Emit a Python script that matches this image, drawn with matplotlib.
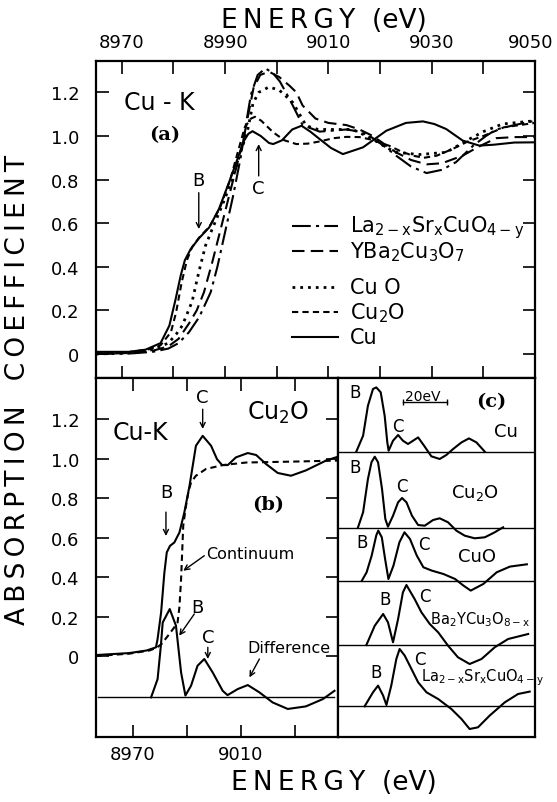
import matplotlib.pyplot as plt
from matplotlib.transforms import ScaledTranslation

plt.rcParams['font.family'] = ['DejaVu Sans']
plt.rcParams['mathtext.fontset'] = 'dejavusans'
plt.rcParams['lines.solid_joinstyle'] = 'round'

# ---------------- (a) normalized Cu K-edge spectra ----------------
e_la = [8965, 8972, 8976, 8979, 8981, 8983, 8985, 8987.2, 8988.5, 8990, 8991.5, 8993, 8994, 8995,
        8996.3, 8997.8, 8999.2, 9000.6, 9002, 9003.1, 9005, 9008.3, 9011, 9013.5, 9016, 9018, 9021,
        9023.1, 9026, 9029, 9032, 9034.7, 9038, 9040.5, 9042.5, 9046, 9050]
mu_la = [0.0, 0.003, 0.01, 0.025, 0.05, 0.1, 0.17, 0.283, 0.4, 0.56, 0.72, 0.9, 1.05, 1.19,
         1.28, 1.31, 1.29, 1.25, 1.19, 1.14, 1.05, 1.02, 1.025, 1.03, 1.02, 1.0, 0.95,
         0.91, 0.86, 0.83, 0.845, 0.88, 0.955, 1.0, 1.03, 1.05, 1.07]

e_yba = [8965, 8972, 8976, 8979, 8981, 8983, 8984.5, 8985.9, 8987.5, 8989, 8990.5, 8992, 8993.5, 8994.5,
         8995.5, 8996.8, 8998.5, 9000.5, 9002.5, 9003.8, 9005, 9007.5, 9010, 9013.5, 9016, 9018.6, 9021,
         9023.1, 9026, 9029, 9032, 9036, 9039, 9042.5, 9046, 9050]
mu_yba = [0.0, 0.005, 0.015, 0.035, 0.07, 0.14, 0.2, 0.283, 0.42, 0.56, 0.7, 0.84, 0.98, 1.1,
          1.22, 1.28, 1.295, 1.27, 1.23, 1.2, 1.14, 1.08, 1.06, 1.05, 1.03, 1.0, 0.96,
          0.925, 0.89, 0.87, 0.875, 0.91, 0.95, 0.99, 0.995, 0.995]

e_cuo = [8965, 8972, 8976, 8979, 8980.5, 8981.7, 8983.6, 8984.9, 8986.2, 8987.5, 8989.4, 8991.4, 8993,
         8994.3, 8995.4, 8996.5, 8998.5, 9000.5, 9003.1, 9005.7, 9008, 9011, 9014.7, 9018.6, 9021,
         9023.1, 9027.6, 9032.8, 9037.3, 9040, 9043.7, 9050]
mu_cuo = [0.0, 0.005, 0.02, 0.05, 0.09, 0.13, 0.24, 0.375, 0.497, 0.573, 0.68, 0.8, 0.925,
          1.02, 1.15, 1.2, 1.225, 1.21, 1.154, 1.047, 1.03, 1.03, 1.03, 0.986, 0.95,
          0.925, 0.915, 0.925, 0.986, 1.02, 1.055, 1.07]

e_cu2o = [8965, 8971, 8975, 8977.5, 8979.5, 8980.5, 8981.6, 8982.6, 8983.6, 8985, 8987, 8989, 8991,
          8992.5, 8993.8, 8995, 8995.8, 8997, 8999.3, 9001.5, 9003.8, 9006, 9008.3, 9011, 9013.5, 9016,
          9018, 9021.8, 9024, 9026.3, 9028.5, 9031, 9034, 9037, 9040, 9044, 9050]
mu_cu2o = [0.005, 0.008, 0.02, 0.04, 0.1, 0.19, 0.33, 0.43, 0.49, 0.535, 0.585, 0.67, 0.8,
           0.93, 1.04, 1.08, 1.088, 1.07, 1.017, 0.98, 0.963, 0.965, 0.975, 0.99, 0.996, 0.995,
           0.985, 0.955, 0.93, 0.91, 0.9, 0.91, 0.94, 0.975, 1.0, 1.04, 1.06]

e_cu = [8965, 8971.4, 8974.6, 8977.5, 8979.2, 8980.4, 8981.4, 8982.2, 8983.3, 8984.9, 8986.9, 8988.8,
        8990.8, 8992.4, 8993.7, 8994.5, 8995.3, 8996.9, 8998.5, 8999.3, 9001, 9003, 9004.8, 9006.5,
        9008.3, 9010.5, 9012.8, 9016.7, 9021.2, 9025, 9028.3, 9030.5, 9032.8, 9036, 9039.2, 9042,
        9046, 9050]
mu_cu = [0.01, 0.01, 0.02, 0.05, 0.13, 0.25, 0.36, 0.43, 0.48, 0.53, 0.58, 0.665,
         0.79, 0.895, 0.98, 1.01, 1.022, 1.0, 0.968, 0.963, 0.98, 1.03, 1.047, 1.02,
         0.986, 0.945, 0.917, 0.948, 1.024, 1.06, 1.067, 1.055, 1.032, 0.979, 0.956, 0.96,
         0.97, 0.971]

labels_a = [r'La$_{\mathrm{2-x}}$Sr$_{\mathrm{x}}$CuO$_{\mathrm{4-y}}$',
            r'YBa$_2$Cu$_3$O$_7$', 'Cu O', r'Cu$_2$O', 'Cu']

# ---------------- (b) Cu2O spectrum, continuum and difference ----------------
e_b = [8956.3, 8968.6, 8975, 8978.5, 8979.1, 8980.4, 8981.6, 8982.5, 8983.7, 8985.3, 8987.2, 8989,
       8990.9, 8993.3, 8995.8, 8998.9, 9001.1, 9003, 9005.1, 9008.1, 9012.5, 9015.6, 9019.3, 9023.6,
       9028.5, 9034, 9041.5, 9046]
mu_b = [0.005, 0.015, 0.028, 0.044, 0.086, 0.22, 0.42, 0.525, 0.558, 0.575, 0.626, 0.727,
        0.86, 1.065, 1.115, 1.065, 0.997, 0.967, 0.967, 1.006, 1.028, 1.018, 0.972, 0.927,
        0.913, 0.94, 0.99, 1.01]

e_cont = [8956.3, 8968.6, 8976, 8978.5, 8980.5, 8982.8, 8985, 8986.5, 8987.2, 8987.8, 8988.6, 8989.5,
          8990.5, 8991.5, 8993.3, 8997, 9003.2, 9011.9, 9030.4, 9046]
mu_cont = [0.0, 0.012, 0.028, 0.04, 0.06, 0.1, 0.14, 0.17, 0.25, 0.39, 0.66, 0.75,
           0.83, 0.88, 0.913, 0.947, 0.967, 0.98, 0.985, 0.99]

e_diff = [8976.7, 8979.1, 8980.3, 8981, 8983.6, 8985.9, 8987.8, 8989.4, 8991.5, 8993.9, 8996.4, 8999.5,
          9003.2, 9005, 9008.8, 9012.5, 9016.8, 9021.7, 9027.3, 9034, 9040.3, 9044.6]
mu_diff = [-0.209, -0.117, 0.05, 0.17, 0.238, 0.154, -0.083, -0.2, -0.15, -0.049, -0.015, -0.083,
           -0.176, -0.198, -0.167, -0.147, -0.184, -0.235, -0.268, -0.255, -0.218, -0.176]
diff_zero = -0.209

# ---------------- (c) difference spectra of the five compounds ----------------
names_c = ['Cu', r'Cu$_2$O', 'CuO', r'Ba$_2$YCu$_3$O$_{\mathrm{8-x}}$',
           r'La$_{\mathrm{2-x}}$Sr$_{\mathrm{x}}$CuO$_{\mathrm{4-y}}$']

e_c_cu = [8970.3, 8973.4, 8975.6, 8977.9, 8979.4, 8981.4, 8983.2, 8984.4, 8985, 8987, 8989.3, 8991.5,
          8993.8, 8996.1, 8998.4, 9001.1, 9004.4, 9008.2, 9011.2, 9014.3, 9018.1, 9021.5, 9024.9, 9028.7]
d_c_cu = [0.0, 0.16, 0.46, 0.627, 0.643, 0.594, 0.36, 0.093, 0.01, 0.11, 0.167, 0.11,
          0.077, 0.11, 0.143, 0.06, -0.046, -0.073, -0.033, 0.027, 0.093, 0.133, 0.093, 0.0]

e_c_cu2o = [8971.1, 8973.4, 8975.6, 8977.2, 8978.7, 8980.2, 8982, 8983.5, 8984.7, 8987, 8989.3, 8991.1,
            8993.1, 8995.6, 8998.4, 9001.4, 9005.2, 9008.2, 9012, 9015.8, 9019.6, 9024.1, 9028.7, 9033.2,
            9037]
d_c_cu2o = [0.007, 0.157, 0.49, 0.657, 0.713, 0.657, 0.39, 0.09, 0.013, 0.123, 0.257, 0.3,
            0.257, 0.123, 0.03, 0.023, 0.08, 0.097, 0.057, -0.027, -0.077, -0.103, -0.093, -0.043,
            0.007]

e_c_cuo = [8972.8, 8975, 8977.3, 8979.4, 8980.3, 8981.9, 8983.4, 8984.9, 8987.2, 8989.9, 8992.2, 8994.7,
           8997.8, 9000.8, 9004.6, 9009.9, 9015.2, 9019, 9022.3, 9028, 9034.1, 9040.1, 9047.8]
d_c_cuo = [0.005, 0.09, 0.257, 0.46, 0.507, 0.44, 0.223, 0.023, 0.157, 0.39, 0.49, 0.423,
           0.257, 0.14, 0.107, 0.073, 0.023, -0.043, -0.093, -0.027, 0.09, 0.147, 0.17]

e_c_yba = [8974.9, 8978.7, 8982.5, 8984.7, 8987, 8989.3, 8991.5, 8993.1, 8994.6, 8996.8, 8999.9, 9003.7,
           9007.5, 9012, 9016.5, 9021.8, 9027.2, 9033.2, 9039.3, 9048.4]
d_c_yba = [0.0, 0.193, 0.31, 0.227, 0.027, 0.26, 0.527, 0.6, 0.543, 0.46, 0.327, 0.21,
           0.127, -0.007, -0.123, -0.19, -0.14, -0.023, 0.06, 0.11]

e_c_la = [8974.1, 8977.9, 8980.2, 8982.5, 8984, 8986.2, 8988.5, 8990, 8992.3, 8994.6, 8998.4, 9002.2,
          9007.5, 9013.5, 9018.1, 9021.8, 9025.6, 9030.9, 9037.8, 9043.8, 9049.1]
d_c_la = [0.0, 0.14, 0.207, 0.107, 0.013, 0.207, 0.473, 0.573, 0.507, 0.407, 0.24, 0.14,
          0.073, -0.027, -0.127, -0.227, -0.21, -0.093, 0.04, 0.123, 0.147]

scale_bar_ev = 20

# tick values / labels
xt_a = [8970, 8980, 8990, 9000, 9010, 9020, 9030, 9040, 9050]
xl_a = ['8970', '', '8990', '', '9010', '', '9030', '', '9050']
yt = [0, 0.2, 0.4, 0.6, 0.8, 1.0, 1.2]
yl = ['0', '0.2', '0.4', '0.6', '0.8', '1.0', '1.2']
xt_b = [8970, 8990, 9010, 9030]
xl_b = ['8970', '', '9010', '']


def spaced(s):
    return '\u2009'.join(s)


W, H = 557, 803
fig = plt.figure(figsize=(W / 100, H / 100), dpi=100)


def rect(l, t, r, b):
    return [l / W, 1 - b / H, (r - l) / W, (b - t) / H]


ax_a = fig.add_axes(rect(96, 62, 535, 379))
ax_b = fig.add_axes(rect(96, 379, 338, 738))
ax_c = fig.add_axes(rect(338, 379, 535, 738))

for ax in (ax_a, ax_b, ax_c):
    for sp in ax.spines.values():
        sp.set_linewidth(1.6)

arrow = dict(arrowstyle='->', lw=1.0, color='k', shrinkA=0, shrinkB=0,
             mutation_scale=9)

# ---- panel (a) ----
styles = [dict(dashes=(9, 2.5, 1.5, 2.5)), dict(dashes=(6, 3)), dict(dashes=(1, 1.8), lw=2.0),
          dict(dashes=(3, 2)), dict(ls='-')]
series = [(e_la, mu_la), (e_yba, mu_yba), (e_cuo, mu_cuo), (e_cu2o, mu_cu2o), (e_cu, mu_cu)]
for (e, m), st in zip(series, styles):
    kw = dict(color='k', lw=1.5)
    kw.update(st)
    ax_a.plot(e, m, **kw)

ax_a.set_xlim(8965, 9050)
ax_a.set_ylim(-0.11, 1.344)
ax_a.set_xticks(xt_a)
ax_a.set_xticklabels(xl_a)
ax_a.set_yticks(yt)
ax_a.set_yticklabels(yl)
ax_a.tick_params(direction='in', length=9, width=1.2, labelsize=13, top=True, right=True,
                 labeltop=True, labelbottom=False)
ax_a.tick_params(axis='y', pad=12)
ax_a.tick_params(axis='x', pad=7)
# keep the last top label inside the picture
last = ax_a.xaxis.get_majorticklabels()[-1]
last.set_transform(last.get_transform() + ScaledTranslation(-3 / 72, 0, fig.dpi_scale_trans))

# legend drawn by hand
leg_y = [0.479, 0.401, 0.287, 0.208, 0.129]
for (lab, st, y) in zip(labels_a, styles, leg_y):
    kw = dict(color='k', lw=1.5, transform=ax_a.transAxes)
    kw.update(st)
    ax_a.plot([0.446, 0.551], [y, y], **kw)
    ax_a.text(0.579, y, lab, transform=ax_a.transAxes, fontsize=15, va='center', ha='left')

ax_a.text(8977.2, 1.156, 'Cu - K', fontsize=17, ha='center', va='center')
ax_a.text(8978.3, 1.009, '(a)', fontsize=14, ha='center', va='center',
          family='DejaVu Serif', weight='bold')
ax_a.text(8984.9, 0.80, 'B', fontsize=13, ha='center', va='center')
ax_a.annotate('', xy=(8984.9, 0.573), xytext=(8984.9, 0.74), arrowprops=arrow)
ax_a.text(8996.5, 0.76, 'C', fontsize=13, ha='center', va='center')
ax_a.annotate('', xy=(8996.5, 0.963), xytext=(8996.5, 0.817), arrowprops=arrow)

# ---- panel (b) ----
ax_b.axhline(diff_zero, xmin=0.01, xmax=0.985, color='k', lw=1)
ax_b.plot(e_cont, mu_cont, color='k', lw=1.5, dashes=(3, 2))
ax_b.plot(e_b, mu_b, color='k', lw=1.5)
ax_b.plot(e_diff, mu_diff, color='k', lw=1.5)

ax_b.set_xlim(8956.3, 9045.9)
ax_b.set_ylim(-0.41, 1.408)
ax_b.set_xticks(xt_b)
ax_b.set_xticklabels(xl_b)
ax_b.set_yticks(yt)
ax_b.set_yticklabels(yl)
ax_b.tick_params(direction='in', length=9, width=1.2, labelsize=13, top=True, right=True)
ax_b.tick_params(axis='y', pad=12)
ax_b.tick_params(axis='x', pad=6)

ax_b.text(8972.6, 1.134, 'Cu-K', fontsize=17, ha='center', va='center')
ax_b.text(9023.7, 1.235, r'Cu$_2$O', fontsize=17, ha='center', va='center')
ax_b.text(8995.8, 1.31, 'C', fontsize=13, ha='center', va='center')
ax_b.annotate('', xy=(8995.8, 1.15), xytext=(8995.8, 1.25), arrowprops=arrow)
ax_b.text(8982.2, 0.83, 'B', fontsize=13, ha='center', va='center')
ax_b.annotate('', xy=(8982.2, 0.608), xytext=(8982.2, 0.729), arrowprops=arrow)
ax_b.text(9019.9, 0.77, '(b)', fontsize=14, ha='center', va='center',
          family='DejaVu Serif', weight='bold')
ax_b.text(8997.2, 0.52, 'Continuum', fontsize=11.5, ha='left', va='center')
ax_b.annotate('', xy=(8988.6, 0.432), xytext=(8996.4, 0.508), arrowprops=arrow)
ax_b.text(8994, 0.246, 'B', fontsize=13, ha='center', va='center')
ax_b.annotate('', xy=(8987.1, 0.103), xytext=(8992.7, 0.213), arrowprops=arrow)
ax_b.text(8997.7, 0.095, 'C', fontsize=13, ha='center', va='center')
ax_b.annotate('', xy=(8997.7, -0.015), xytext=(8997.7, 0.044), arrowprops=arrow)
ax_b.text(9027.8, 0.044, 'Difference', fontsize=11.5, ha='center', va='center')
ax_b.annotate('', xy=(9013.1, -0.108), xytext=(9016.8, -0.015), arrowprops=arrow)

# ---- panel (c) ----
offsets_c = [2.853, 2.09, 1.557, 0.92, 0.307]
curves_c = [(e_c_cu, d_c_cu), (e_c_cu2o, d_c_cu2o), (e_c_cuo, d_c_cuo),
            (e_c_yba, d_c_yba), (e_c_la, d_c_la)]
for (e, d), off in zip(curves_c, offsets_c):
    ax_c.axhline(off, color='k', lw=1)
    ax_c.plot(e, [off + v for v in d], color='k', lw=1.5)

ax_c.set_xlim(8962, 9051.5)
ax_c.set_ylim(0, 3.59)
ax_c.set_xticks([])
ax_c.set_yticks([])

name_pos = [(9038.4, 3.063, 13, 'center'), (9024.1, 2.447, 13, 'center'),
            (9025, 1.813, 13, 'center'), (9003.7, 1.18, 10.5, 'left'), (8999.9, 0.6, 10.5, 'left')]
for name, (x, y, fs, ha) in zip(names_c, name_pos):
    ax_c.text(x, y, name, fontsize=fs, ha=ha, va='center')

b_pos = [(8969.6, 3.447), (8969.6, 2.697), (8972.9, 1.95), (8983.2, 1.38), (8979.4, 0.647)]
c_pos = [(8989.3, 3.113), (8990.8, 2.513), (9000.8, 1.93), (9001.4, 1.413), (8999.1, 0.78)]
for (bx, by), (cx, cy) in zip(b_pos, c_pos):
    ax_c.text(bx, by, 'B', fontsize=12, ha='center', va='center')
    ax_c.text(cx, cy, 'C', fontsize=12, ha='center', va='center')

ax_c.plot([8991.5, 8991.5 + scale_bar_ev], [3.347, 3.347], color='k', lw=1,
          marker='|', ms=4, mew=1)
ax_c.text(8991.5 + scale_bar_ev / 2 - 1, 3.413, '20eV', fontsize=10, ha='center', va='center')
ax_c.text(9031.5, 3.363, '(c)', fontsize=14, ha='center', va='center',
          family='DejaVu Serif', weight='bold')

# ---- axis titles ----
title_x = spaced('ENERGY') + '  (eV)'
fig.text(0.582, 0.974, title_x, fontsize=19, ha='center', va='center')
fig.text(0.600, 0.025, title_x, fontsize=19, ha='center', va='center')
fig.text(0.032, 0.514, spaced('ABSORPTION') + '   ' + spaced('COEFFICIENT'), fontsize=19,
         ha='center', va='center', rotation=90)

fig.savefig('out.png', dpi=100)
